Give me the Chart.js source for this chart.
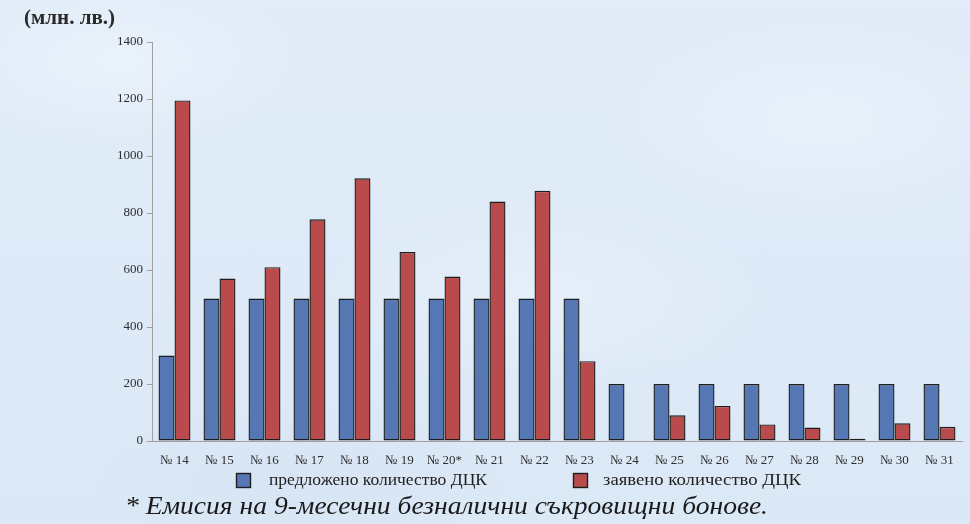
<!DOCTYPE html>
<html>
<head>
<meta charset="utf-8">
<script src="https://cdn.jsdelivr.net/npm/chart.js@4.4.1/dist/chart.umd.min.js"></script>
<style>
  html, body { margin: 0; padding: 0; }
  body {
    width: 970px; height: 524px; overflow: hidden;
    background:
      radial-gradient(ellipse 260px 120px at 120px 60px, rgba(238,245,252,0.7), rgba(238,245,252,0) 70%),
      radial-gradient(ellipse 300px 140px at 820px 120px, rgba(236,244,252,0.7), rgba(236,244,252,0) 70%),
      radial-gradient(ellipse 320px 140px at 540px 300px, rgba(234,243,252,0.6), rgba(234,243,252,0) 70%),
      radial-gradient(ellipse 300px 120px at 300px 480px, rgba(212,226,242,0.6), rgba(212,226,242,0) 70%),
      linear-gradient(180deg, #e1ecf8 0%, #deeaf7 50%, #dbe8f6 100%);
  }
  #wrap { position: absolute; left: 0; top: 0; width: 970px; height: 524px; }
</style>
</head>
<body>
<div id="wrap"><canvas id="chart" width="970" height="524"></canvas></div>
<script>
// Auction numbers of government securities (ДЦК)
const auctions = ['№ 14', '№ 15', '№ 16', '№ 17', '№ 18', '№ 19', '№ 20*', '№ 21', '№ 22',
                  '№ 23', '№ 24', '№ 25', '№ 26', '№ 27', '№ 28', '№ 29', '№ 30', '№ 31'];

// Offered amount, million leva
const offered = [300, 500, 500, 500, 500, 500, 500, 500, 500,
                 500, 200, 200, 200, 200, 200, 200, 200, 200];

// Bid amount, million leva
const bid = [1195, 570, 610, 778, 922, 663, 577, 840, 878,
             280, null, 90, 123, 58, 47, 8, 62, 50];

const yTicks = [0, 200, 400, 600, 800, 1000, 1200, 1400];

const seriesNames = ['предложено количество ДЦК', 'заявено количество ДЦК'];
const unitLabel = '(млн. лв.)';
const footnote = '* Емисия на 9-месечни безналични съкровищни бонове.';

const BLUE = '#5577b3';
const RED = '#b94b4c';
const EDGE = '#1e1e1e';
const SERIF = '"Liberation Serif", "Times New Roman", serif';

// Unit caption, legend and footnote drawn around the plot
const annotations = {
  id: 'annotations',
  afterDraw(chart) {
    const ctx = chart.ctx;
    ctx.save();
    ctx.fillStyle = '#2a2a2a';
    ctx.textBaseline = 'middle';
    ctx.textAlign = 'left';

    ctx.font = 'bold 21px ' + SERIF;
    ctx.fillText(unitLabel, 24, 19);

    // legend
    const items = [
      { box: 236, text: 269, width: 218 },
      { box: 573, text: 603, width: 198 }
    ];
    chart.data.datasets.forEach((ds, i) => {
      const it = items[i];
      ctx.fillStyle = ds.backgroundColor;
      ctx.fillRect(it.box, 473, 15, 15);
      ctx.strokeStyle = EDGE;
      ctx.lineWidth = 1.4;
      ctx.strokeRect(it.box + 0.5, 473.5, 14, 14);
      ctx.fillStyle = '#222';
      ctx.font = '17px ' + SERIF;
      const w = ctx.measureText(ds.label).width;
      ctx.save();
      ctx.translate(it.text, 481);
      ctx.scale(it.width / w, 1);
      ctx.fillText(ds.label, 0, 0);
      ctx.restore();
    });

    // footnote
    ctx.font = 'italic 25px ' + SERIF;
    ctx.textBaseline = 'alphabetic';
    const fw = ctx.measureText(footnote).width;
    ctx.save();
    ctx.translate(125, 514);
    ctx.scale(643 / fw, 1);
    ctx.fillStyle = '#1a1a1a';
    ctx.fillText(footnote, 0, 0);
    ctx.restore();

    ctx.restore();
  }
};

new Chart(document.getElementById('chart'), {
  type: 'bar',
  data: {
    labels: auctions,
    datasets: [
      {
        label: seriesNames[0],
        data: offered,
        backgroundColor: BLUE,
        borderColor: EDGE,
        borderWidth: 1.4,
        borderSkipped: false
      },
      {
        label: seriesNames[1],
        data: bid,
        backgroundColor: RED,
        borderColor: EDGE,
        borderWidth: 1.4,
        borderSkipped: false
      }
    ]
  },
  options: {
    responsive: false,
    animation: false,
    layout: { padding: { top: 42, right: 8, bottom: 0, left: 0 } },
    datasets: { bar: { categoryPercentage: 0.71, barPercentage: 1.0 } },
    plugins: {
      legend: { display: false },
      tooltip: { enabled: false },
      title: { display: false }
    },
    scales: {
      x: {
        grid: { display: false },
        border: { display: true, color: '#a0a0a0', width: 1 },
        ticks: {
          color: '#2e2e2e',
          font: { family: SERIF, size: 13 },
          padding: 4,
          maxRotation: 0,
          autoSkip: false
        },
        afterFit(scale) { scale.height = 83; }
      },
      y: {
        min: 0,
        max: 1400,
        afterBuildTicks(scale) { scale.ticks = yTicks.map(v => ({ value: v })); },
        grid: {
          display: true,
          drawOnChartArea: false,
          drawTicks: true,
          tickLength: 5,
          color: '#a0a0a0'
        },
        border: { display: true, color: '#a0a0a0', width: 1 },
        ticks: {
          color: '#2e2e2e',
          font: { family: SERIF, size: 13 },
          padding: 4,
          callback: (v) => String(v)
        },
        afterFit(scale) { scale.width = 152; }
      }
    }
  },
  plugins: [annotations]
});
</script>
</body>
</html>
